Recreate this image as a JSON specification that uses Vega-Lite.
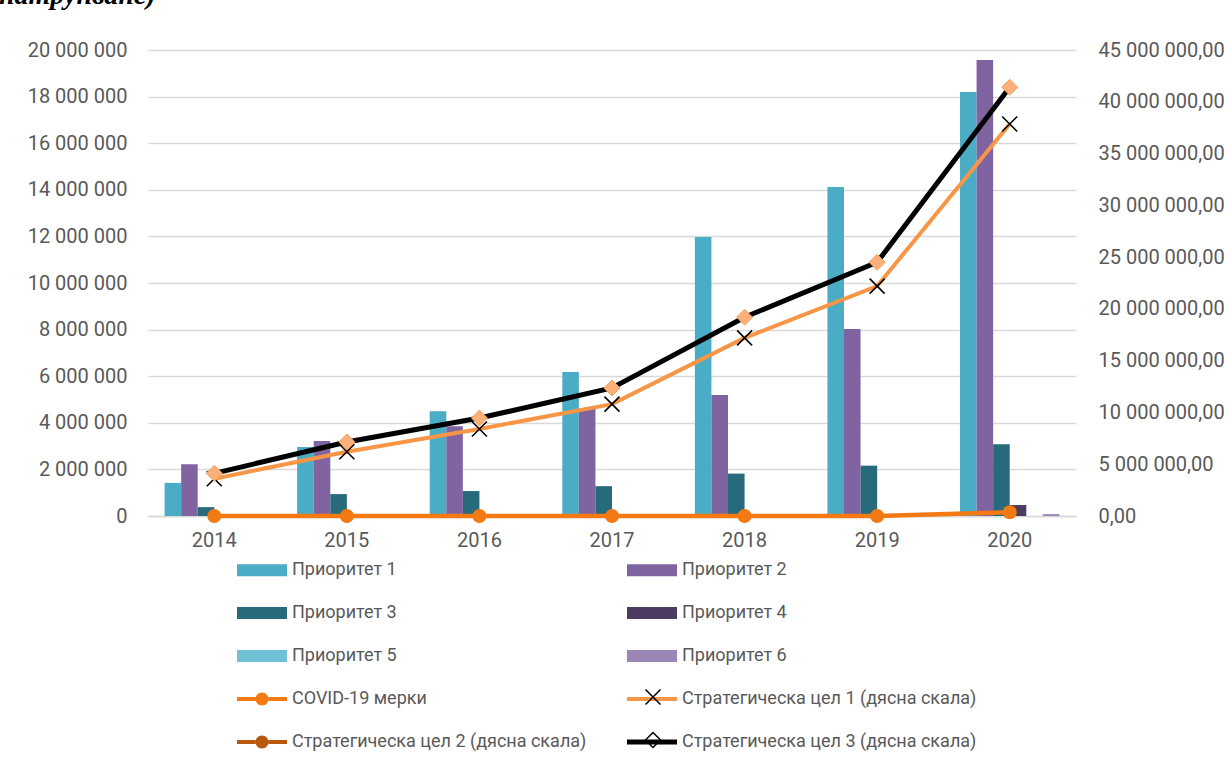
{
  "$schema": "https://vega.github.io/schema/vega-lite/v6.json",
  "width": 928,
  "height": 466,
  "autosize": {"type": "none"},
  "padding": {"left": 148, "top": 50, "right": 149, "bottom": 248},
  "background": "white",
  "title": {"text": "натрупване)", "anchor": "start", "frame": "group", "font": "Liberation Serif", "fontSize": 28, "fontStyle": "italic", "fontWeight": "bold", "color": "black", "baseline": "alphabetic", "dx": -149, "dy": 26, "offset": 34},
  "config": {
    "locale": {"number": {"decimal": ",", "thousands": " ", "grouping": [3], "currency": ["", ""]}},
    "view": {"stroke": null},
    "font": "Roboto"
  },
  "datasets": {
    "bars": [
      {"year": "2014", "series": "Приоритет 1", "value": 1420000},
      {"year": "2014", "series": "Приоритет 2", "value": 2220000},
      {"year": "2014", "series": "Приоритет 3", "value": 380000},
      {"year": "2014", "series": "Приоритет 4", "value": 0},
      {"year": "2014", "series": "Приоритет 5", "value": 0},
      {"year": "2014", "series": "Приоритет 6", "value": 0},
      {"year": "2015", "series": "Приоритет 1", "value": 2960000},
      {"year": "2015", "series": "Приоритет 2", "value": 3220000},
      {"year": "2015", "series": "Приоритет 3", "value": 940000},
      {"year": "2015", "series": "Приоритет 4", "value": 0},
      {"year": "2015", "series": "Приоритет 5", "value": 0},
      {"year": "2015", "series": "Приоритет 6", "value": 0},
      {"year": "2016", "series": "Приоритет 1", "value": 4500000},
      {"year": "2016", "series": "Приоритет 2", "value": 3850000},
      {"year": "2016", "series": "Приоритет 3", "value": 1070000},
      {"year": "2016", "series": "Приоритет 4", "value": 0},
      {"year": "2016", "series": "Приоритет 5", "value": 0},
      {"year": "2016", "series": "Приоритет 6", "value": 0},
      {"year": "2017", "series": "Приоритет 1", "value": 6180000},
      {"year": "2017", "series": "Приоритет 2", "value": 4600000},
      {"year": "2017", "series": "Приоритет 3", "value": 1280000},
      {"year": "2017", "series": "Приоритет 4", "value": 0},
      {"year": "2017", "series": "Приоритет 5", "value": 0},
      {"year": "2017", "series": "Приоритет 6", "value": 0},
      {"year": "2018", "series": "Приоритет 1", "value": 11970000},
      {"year": "2018", "series": "Приоритет 2", "value": 5190000},
      {"year": "2018", "series": "Приоритет 3", "value": 1820000},
      {"year": "2018", "series": "Приоритет 4", "value": 0},
      {"year": "2018", "series": "Приоритет 5", "value": 0},
      {"year": "2018", "series": "Приоритет 6", "value": 0},
      {"year": "2019", "series": "Приоритет 1", "value": 14120000},
      {"year": "2019", "series": "Приоритет 2", "value": 8030000},
      {"year": "2019", "series": "Приоритет 3", "value": 2160000},
      {"year": "2019", "series": "Приоритет 4", "value": 0},
      {"year": "2019", "series": "Приоритет 5", "value": 0},
      {"year": "2019", "series": "Приоритет 6", "value": 0},
      {"year": "2020", "series": "Приоритет 1", "value": 18200000},
      {"year": "2020", "series": "Приоритет 2", "value": 19570000},
      {"year": "2020", "series": "Приоритет 3", "value": 3080000},
      {"year": "2020", "series": "Приоритет 4", "value": 470000},
      {"year": "2020", "series": "Приоритет 5", "value": 0},
      {"year": "2020", "series": "Приоритет 6", "value": 80000}
    ],
    "lines": [
      {"year": "2014", "series": "COVID-19 мерки", "value": 0},
      {"year": "2015", "series": "COVID-19 мерки", "value": 0},
      {"year": "2016", "series": "COVID-19 мерки", "value": 0},
      {"year": "2017", "series": "COVID-19 мерки", "value": 0},
      {"year": "2018", "series": "COVID-19 мерки", "value": 0},
      {"year": "2019", "series": "COVID-19 мерки", "value": 0},
      {"year": "2020", "series": "COVID-19 мерки", "value": 160000},
      {"year": "2014", "series": "Стратегическа цел 1 (дясна скала)", "value": 3600000},
      {"year": "2015", "series": "Стратегическа цел 1 (дясна скала)", "value": 6200000},
      {"year": "2016", "series": "Стратегическа цел 1 (дясна скала)", "value": 8400000},
      {"year": "2017", "series": "Стратегическа цел 1 (дясна скала)", "value": 10800000},
      {"year": "2018", "series": "Стратегическа цел 1 (дясна скала)", "value": 17200000},
      {"year": "2019", "series": "Стратегическа цел 1 (дясна скала)", "value": 22200000},
      {"year": "2020", "series": "Стратегическа цел 1 (дясна скала)", "value": 37850000},
      {"year": "2014", "series": "Стратегическа цел 3  (дясна скала)", "value": 4120000},
      {"year": "2015", "series": "Стратегическа цел 3  (дясна скала)", "value": 7150000},
      {"year": "2016", "series": "Стратегическа цел 3  (дясна скала)", "value": 9460000},
      {"year": "2017", "series": "Стратегическа цел 3  (дясна скала)", "value": 12360000},
      {"year": "2018", "series": "Стратегическа цел 3  (дясна скала)", "value": 19200000},
      {"year": "2019", "series": "Стратегическа цел 3  (дясна скала)", "value": 24500000},
      {"year": "2020", "series": "Стратегическа цел 3  (дясна скала)", "value": 41400000}
    ]
  },
  "layer": [
    {
      "data": {"name": "bars"},
      "mark": {"type": "bar"},
      "encoding": {
        "x": {"field": "year", "type": "nominal", "title": null,
          "scale": {"paddingInner": 0, "paddingOuter": 0},
          "axis": {"labelFont": "Roboto", "labelFontSize": 20, "labelColor": "#595959", "labelPadding": 14, "labelAngle": 0, "ticks": false, "domain": true, "domainColor": "#d9d9d9", "domainWidth": 1.5, "grid": false}},
        "xOffset": {"field": "series", "type": "nominal",
          "scale": {"domain": ["Приоритет 1", "Приоритет 2", "Приоритет 3", "Приоритет 4", "Приоритет 5", "Приоритет 6"], "paddingInner": 0, "paddingOuter": 1.14}},
        "y": {"field": "value", "type": "quantitative", "title": null,
          "scale": {"domain": [0, 20000000], "nice": false, "zero": true},
          "axis": {"orient": "left", "values": [0, 2000000, 4000000, 6000000, 8000000, 10000000, 12000000, 14000000, 16000000, 18000000, 20000000], "format": ",d", "grid": true, "gridColor": "#d9d9d9", "gridWidth": 1.5, "domain": false, "ticks": false, "labelFont": "Roboto", "labelFontSize": 20, "labelColor": "#595959", "labelPadding": 21}},
        "color": {"field": "series", "type": "nominal",
          "scale": {
            "domain": ["Приоритет 1", "Приоритет 3", "Приоритет 5", "COVID-19 мерки", "Стратегическа цел 2  (дясна скала)", "Приоритет 2", "Приоритет 4", "Приоритет 6", "Стратегическа цел 1 (дясна скала)", "Стратегическа цел 3  (дясна скала)"],
            "range": ["#4bacc6", "#276a7c", "#72c0d5", "#f37a12", "#b8590d", "#8064a2", "#4d3b62", "#9b86b8", "#f79646", "#000000"]},
          "legend": {
            "orient": "none", "legendX": 89, "legendY": 498.75, "columns": 2, "columnPadding": 36, "rowPadding": 0, "clipHeight": 42.5, "padding": 0, "title": null, "zindex": 0,
            "labelFont": "Roboto", "labelFontSize": 18, "labelColor": "#595959", "labelOffset": 5, "labelLimit": 400,
            "symbolSize": 2500,
            "encode": {"symbols": {"update": {
              "shape": {"signal": "indexof(datum.value, 'Приоритет') === 0 ? 'M-1,-0.24H1V0.24H-1Z' : ((datum.value === 'COVID-19 мерки' || datum.value === 'Стратегическа цел 2  (дясна скала)') ? 'M-1,-0.08H-0.26V0.08H-1Z M0.26,-0.08H1V0.08H0.26Z M-0.26,0A0.26,0.26 0 1,1 0.26,0A0.26,0.26 0 1,1 -0.26,0Z' : (datum.value === 'Стратегическа цел 3  (дясна скала)' ? 'M-1,-0.1H1V0.1H-1Z' : 'M-1,-0.08H1V0.08H-1Z'))"},
              "fill": {"scale": "color", "field": "value"},
              "stroke": {"value": "transparent"},
              "strokeWidth": {"value": 0},
              "opacity": {"value": 1},
              "fillOpacity": {"value": 1}
            }}}
          }}
      }
    },
    {
      "data": {"name": "lines"},
      "transform": [{"filter": "datum.series === 'COVID-19 мерки'"}],
      "mark": {"type": "line", "strokeWidth": 4.5, "point": {"filled": true, "size": 196}},
      "encoding": {
        "x": {"field": "year", "type": "nominal"},
        "y": {"field": "value", "type": "quantitative", "scale": {"domain": [0, 20000000], "nice": false}, "axis": null},
        "color": {"field": "series", "type": "nominal"}
      }
    },
    {
      "data": {"name": "lines"},
      "transform": [{"filter": "datum.series === 'Стратегическа цел 1 (дясна скала)'"}],
      "mark": {"type": "line", "strokeWidth": 4},
      "encoding": {
        "x": {"field": "year", "type": "nominal"},
        "y": {"field": "value", "type": "quantitative", "title": null,
          "scale": {"domain": [0, 45000000], "nice": false},
          "axis": {"orient": "right", "values": [0, 5000000, 10000000, 15000000, 20000000, 25000000, 30000000, 35000000, 40000000, 45000000], "format": ",.2f", "grid": false, "domain": false, "ticks": false, "labelFont": "Roboto", "labelFontSize": 20, "labelColor": "#595959", "labelPadding": 22}},
        "color": {"field": "series", "type": "nominal"}
      }
    },
    {
      "data": {"name": "lines"},
      "transform": [{"filter": "datum.series === 'Стратегическа цел 1 (дясна скала)'"}],
      "mark": {"type": "point", "filled": false, "stroke": "#000000", "strokeWidth": 1.6, "size": 225, "opacity": 1},
      "encoding": {
        "x": {"field": "year", "type": "nominal"},
        "y": {"field": "value", "type": "quantitative", "scale": {"domain": [0, 45000000], "nice": false}, "axis": null},
        "shape": {"field": "series", "type": "nominal",
          "scale": {"domain": ["Стратегическа цел 1 (дясна скала)", "Стратегическа цел 3  (дясна скала)"], "range": ["M-1,-1L1,1M-1,1L1,-1", "diamond"]},
          "legend": {
            "orient": "none", "legendX": 496.5, "legendY": 625.75, "direction": "vertical", "rowPadding": 0, "clipHeight": 42.5, "padding": 0, "title": null, "zindex": 2,
            "labelExpr": "''", "symbolSize": 225,
            "encode": {"symbols": {"update": {
              "fill": {"signal": "datum.value === 'Стратегическа цел 3  (дясна скала)' ? '#fba86a' : 'transparent'"},
              "stroke": {"signal": "datum.value === 'Стратегическа цел 3  (дясна скала)' ? '#f39a50' : '#000000'"},
              "strokeWidth": {"value": 1.6},
              "opacity": {"value": 1},
              "fillOpacity": {"value": 1}
            }}}
          }}
      }
    },
    {
      "data": {"name": "lines"},
      "transform": [{"filter": "datum.series === 'Стратегическа цел 3  (дясна скала)'"}],
      "mark": {"type": "line", "strokeWidth": 5},
      "encoding": {
        "x": {"field": "year", "type": "nominal"},
        "y": {"field": "value", "type": "quantitative", "scale": {"domain": [0, 45000000], "nice": false}, "axis": null},
        "color": {"field": "series", "type": "nominal"}
      }
    },
    {
      "data": {"name": "lines"},
      "transform": [{"filter": "datum.series === 'Стратегическа цел 3  (дясна скала)'"}],
      "mark": {"type": "point", "filled": true, "fill": "#fbb07a", "stroke": "#f5a05a", "strokeWidth": 1, "size": 256, "opacity": 1},
      "encoding": {
        "x": {"field": "year", "type": "nominal"},
        "y": {"field": "value", "type": "quantitative", "scale": {"domain": [0, 45000000], "nice": false}, "axis": null},
        "shape": {"field": "series", "type": "nominal",
          "legend": {
            "orient": "none", "legendX": 496.5, "legendY": 625.75, "direction": "vertical", "rowPadding": 0, "clipHeight": 42.5, "padding": 0, "title": null, "zindex": 2,
            "labelExpr": "''", "symbolSize": 225,
            "encode": {"symbols": {"update": {
              "fill": {"signal": "datum.value === 'Стратегическа цел 3  (дясна скала)' ? '#fba86a' : 'transparent'"},
              "stroke": {"signal": "datum.value === 'Стратегическа цел 3  (дясна скала)' ? '#f39a50' : '#000000'"},
              "strokeWidth": {"value": 1.6},
              "opacity": {"value": 1},
              "fillOpacity": {"value": 1}
            }}}
          }}
      }
    }
  ],
  "resolve": {"scale": {"y": "independent"}}
}
